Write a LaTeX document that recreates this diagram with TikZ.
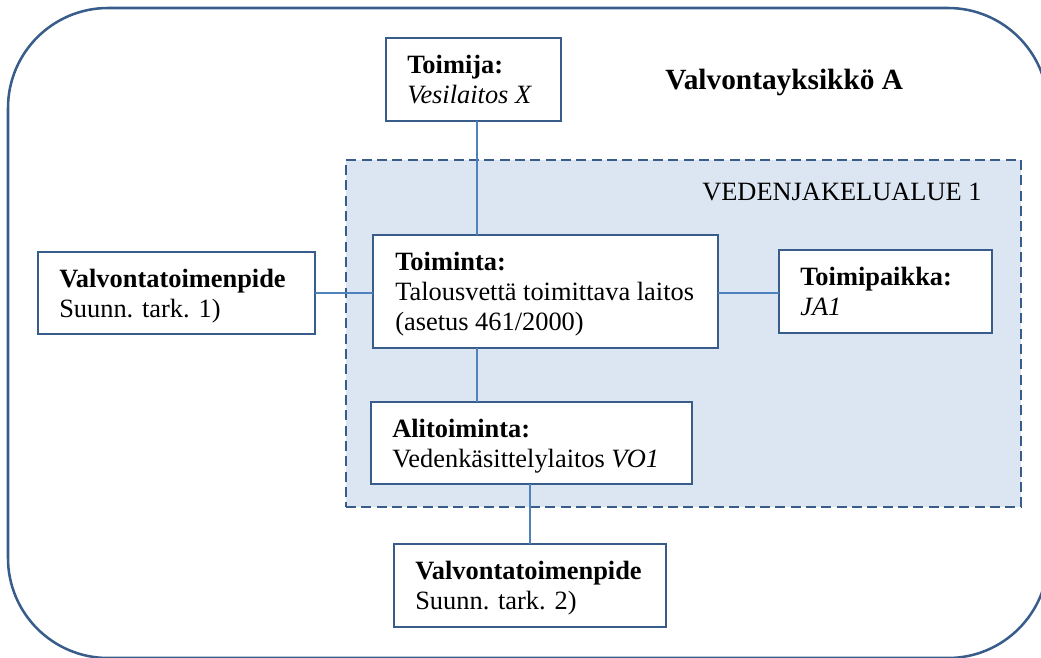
\documentclass[tikz,border=0pt]{standalone}
\usepackage{fontspec}
\setmainfont{Liberation Serif}
\definecolor{frame}{HTML}{385D8A}
\definecolor{conn}{HTML}{4F81BD}
\definecolor{zone}{HTML}{DCE6F2}
\begin{document}
\begin{tikzpicture}[x=0.75pt,y=-0.75pt,
  outerframe/.style={draw=frame,line width=1.9pt,rounded corners=75pt},
  zonebox/.style={draw=frame,fill=zone,line width=1.9pt,dash pattern=on 7.5pt off 4pt,anchor=north west,inner sep=0pt,outer sep=0pt},
  box/.style={draw=frame,fill=white,line width=1.5pt,anchor=north west,inner sep=0pt,outer sep=0pt},
  link/.style={draw=conn,line width=1.1pt},
  txt/.style={anchor=base west,inner sep=0pt,font=\fontsize{19.8}{22.8}\selectfont},
  title/.style={anchor=base west,inner sep=0pt,font=\fontsize{22}{26}\selectfont\bfseries}]
\useasboundingbox (0,0) rectangle (1041,657);
\clip (0,0) rectangle (1041,657);
\draw[outerframe] (8,8) rectangle (1048,658);
\node[zonebox,minimum width=506.25pt,minimum height=260.25pt] (alue) at (346,160) {};
% boxes
\node[box,minimum width=131.25pt,minimum height=62.25pt] (toimija) at (386,38) {};
\node[box,minimum width=258.75pt,minimum height=84.75pt] (toiminta) at (373,235) {};
\node[box,minimum width=159.75pt,minimum height=62.25pt] (paikka) at (779,250) {};
\node[box,minimum width=207.75pt,minimum height=61.5pt] (valv1) at (38,252) {};
\node[box,minimum width=240.75pt,minimum height=61.5pt] (ali) at (371,402) {};
\node[box,minimum width=204pt,minimum height=62.25pt] (valv2) at (394,544) {};
% connectors
\draw[link] ([xshift=2.6pt]toimija.south) -- ([xshift=2.6pt]toimija.south |- toiminta.north);
\draw[link] ([xshift=2.6pt]toimija.south |- toiminta.south) -- ([xshift=2.6pt]toimija.south |- ali.north);
\draw[link] (valv2.north |- ali.south) -- (valv2.north);
\draw[link] (valv1.east) -- (valv1.east -| toiminta.west);
\draw[link] ([yshift=-1.125pt]toiminta.east |- paikka.west) -- ([yshift=-1.125pt]paikka.west);
% texts
\node[title] (ttl) at (665,89) {Valvontayksikkö A};
\node[txt] (zonelbl) at (702,200) {VEDENJAKELUALUE 1};
\node[txt] (t1a) at (407,73) {\textbf{Toimija:}};
\node[txt] (t1b) at (407,103) {\textit{Vesilaitos X}};
\node[txt] (t2a) at (395,270) {\textbf{Toiminta:}};
\node[txt] (t2b) at (395,300) {Talousvettä toimittava laitos};
\node[txt] (t2c) at (395,330) {(asetus 461/2000)};
\node[txt] (t3a) at (800,285) {\textbf{Toimipaikka:}};
\node[txt] (t3b) at (800,315) {\textit{JA1}};
\node[txt] (t4a) at (59,287) {\textbf{Valvontatoimenpide}};
\node[txt] (t4b) at (59,317) {Suunn. tark. 1)};
\node[txt] (t5a) at (392,437) {\textbf{Alitoiminta:}};
\node[txt] (t5b) at (392,467) {Vedenkäsittelylaitos \textit{VO1}};
\node[txt] (t6a) at (415,579) {\textbf{Valvontatoimenpide}};
\node[txt] (t6b) at (415,609) {Suunn. tark. 2)};
\end{tikzpicture}
\end{document}
